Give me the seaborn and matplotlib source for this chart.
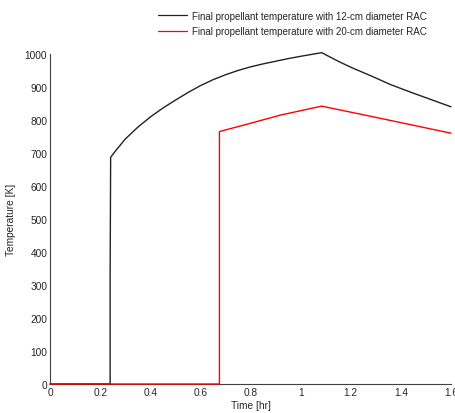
import numpy as np
import pandas as pd
import matplotlib
matplotlib.use("Agg")
import matplotlib.pyplot as plt
import seaborn as sns
from matplotlib.lines import Line2D

# Data
t_12 = [0.0, 0.240, 0.240, 0.242, 0.26, 0.30, 0.35, 0.40, 0.45, 0.50, 0.55, 0.60, 0.65,
        0.70, 0.75, 0.80, 0.85, 0.90, 0.95, 1.00, 1.084, 1.15, 1.20, 1.28, 1.36, 1.44, 1.52, 1.60]
T_12 = [0, 0, 340, 687, 705, 742, 778, 809, 836, 860, 883, 904, 922,
        937, 950, 961, 970, 978, 986, 993, 1004, 978, 960, 934, 907, 884, 862, 840]
t_20 = [0.0, 0.676, 0.676, 0.80, 0.92, 1.084, 1.30, 1.60]
T_20 = [0, 0, 765, 790, 815, 842, 808, 760]

label_12 = "Final propellant temperature with 12-cm diameter RAC"
label_20 = "Final propellant temperature with 20-cm diameter RAC"
x_ticks = [0, 0.2, 0.4, 0.6, 0.8, 1, 1.2, 1.4, 1.6]
x_tick_labels = ["0", "0.2", "0.4", "0.6", "0.8", "1", "1.2", "1.4", "1.6"]
y_ticks = [0, 100, 200, 300, 400, 500, 600, 700, 800, 900, 1000]

df = pd.concat([
    pd.DataFrame({"t": t_12, "T": T_12, "series": label_12}),
    pd.DataFrame({"t": t_20, "T": T_20, "series": label_20}),
], ignore_index=True)

sns.set_style("white")
plt.rcParams["font.family"] = ["Liberation Sans", "DejaVu Sans"]
plt.rcParams["font.size"] = 7

fig = plt.figure(figsize=(4.55, 4.14), dpi=100)
ax = fig.add_axes([50 / 455, 1 - 385 / 414, 401 / 455, 330 / 414])

colors = {label_12: "#222222", label_20: "#ff0000"}
sns.lineplot(data=df, x="t", y="T", hue="series", sort=False, estimator=None,
             palette=colors, hue_order=[label_12, label_20],
             linewidth=1.0, ax=ax, legend=False)
for ln in ax.lines:
    ln.set_clip_on(False)
    if tuple(matplotlib.colors.to_rgb(ln.get_color())) == (1.0, 0.0, 0.0):
        ln.set_zorder(6)
    else:
        ln.set_zorder(5)

ax.set_xlim(0, 1.6)
ax.set_ylim(0, 1000)
ax.set_xticks(x_ticks)
ax.set_xticklabels(x_tick_labels)
ax.set_yticks(y_ticks)
ax.tick_params(direction="in", length=3, width=0.8, colors="#404040",
               labelcolor="#262626", labelsize=7.3, pad=2)
for s in ["top", "right"]:
    ax.spines[s].set_visible(False)
for s in ["left", "bottom"]:
    ax.spines[s].set_color("#404040")
    ax.spines[s].set_linewidth(0.8)
    ax.spines[s].set_zorder(2)
ax.set_xlabel("Time [hr]", fontsize=7.3, color="#262626", labelpad=2)
ax.set_ylabel("Temperature [K]", fontsize=7.3, color="#262626", labelpad=6)

handles = [Line2D([], [], color="#222222", lw=0.9), Line2D([], [], color="#ff0000", lw=0.9)]
fig.legend(handles, [label_12, label_20], loc="upper right",
           bbox_to_anchor=(436 / 455, 1 - 3 / 414), frameon=False,
           fontsize=7.0, handlelength=3.0, handletextpad=0.55, labelspacing=0.55,
           labelcolor="#262626")

fig.savefig("out.png", dpi=100)
